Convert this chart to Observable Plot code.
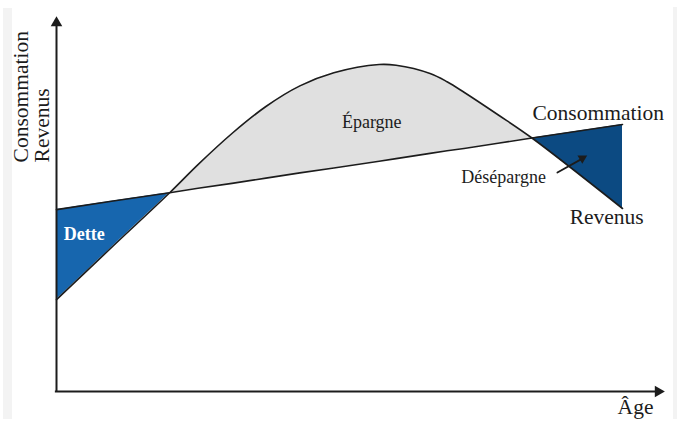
<!DOCTYPE html>
<html>
<head>
<meta charset="utf-8">
<script src="https://cdn.jsdelivr.net/npm/d3@7"></script>
<script src="https://cdn.jsdelivr.net/npm/@observablehq/plot@0.6"></script>
<style>
  html, body { margin: 0; padding: 0; background: #fff; }
  #wrap { position: relative; width: 677px; height: 437px; overflow: hidden; }
  .band { position: absolute; background: #f3f3f3; z-index: 2; }
</style>
</head>
<body>
<div id="wrap">
  <div class="band" style="left:3px;top:8px;width:9px;height:411px;"></div>
  <div class="band" style="left:673px;top:7px;width:4px;height:412px;"></div>
</div>
<script>
// Age (x) and values (y), in arbitrary units 0–100
const ages         = [0, 10, 20, 25, 31, 37, 43, 49, 57, 60, 66, 69, 72, 78, 84, 100];
const revenus      = [24.5, 38.8, 53.0, 60.5, 68.8, 76.0, 81.5, 85.0, 87.2, 87.0, 84.8, 82.6, 79.8, 73.8, 67.6, 48.8];
const consommation = [48.5, 50.8, 53.0, 54.2, 55.5, 56.9, 58.3, 59.6, 61.4, 62.1, 63.5, 64.2, 64.8, 66.2, 67.6, 71.2];
const zoneNames    = ["Dette", "Épargne", "Désépargne"];
const zoneBounds   = [[0, 20], [20, 84], [84, 100]];
const axisLabels   = ["Consommation", "Revenus", "Âge"];

const rows = ages.map((a, i) => ({age: a, revenu: revenus[i], conso: consommation[i]}));

const FONT = "Liberation Serif";
const INK = "#1c1c1c";
const zoneColors = {"Dette": "#1766ae", "Épargne": "#e0e0e0", "Désépargne": "#0c4a82"};

function label(text, x, y, opts = {}) {
  return Plot.text([text], {
    x: () => x, y: () => y, text: d => d,
    fontFamily: FONT, fontSize: 21.5, fill: INK, lineAnchor: "bottom",
    ...opts
  });
}

const zoneMarks = zoneNames.map((name, k) => {
  const [lo, hi] = zoneBounds[k];
  return Plot.areaY(rows.filter(r => r.age >= lo && r.age <= hi), {
    x: "age", y1: "conso", y2: "revenu",
    fill: zoneColors[name], curve: "catmull-rom"
  });
});

const chart = Plot.plot({
  width: 677,
  height: 437,
  margin: 0,
  style: {background: "transparent", overflow: "visible", fontFamily: FONT},
  x: {domain: [0, 100], range: [56, 622], axis: null},
  y: {domain: [0, 100], range: [391, 16], axis: null},
  marks: [
    ...zoneMarks,
    Plot.line(rows, {x: "age", y: "conso", stroke: INK, strokeWidth: 1.6}),
    Plot.line(rows, {x: "age", y: "revenu", stroke: INK, strokeWidth: 1.6, curve: "catmull-rom"}),
    // axes
    Plot.ruleY([0], {x1: -0.2, x2: 106.5, stroke: INK, strokeWidth: 2}),
    Plot.ruleX([0], {y1: 0, y2: 98.5, stroke: INK, strokeWidth: 2}),
    Plot.dot([0], {x: () => 106.3, y: () => 0, symbol: "triangle", r: 4.3, rotate: 90, fill: INK, stroke: null}),
    Plot.dot([0], {x: () => 0, y: () => 98.3, symbol: "triangle", r: 4.3, rotate: 0, fill: INK, stroke: null}),
    // annotation arrow
    Plot.line([[88.5, 58.4], [92.9, 62.1]], {x: d => d[0], y: d => d[1], stroke: INK, strokeWidth: 1.8}),
    Plot.dot([0], {x: () => 92.9, y: () => 62.2, symbol: "triangle", r: 3.6, rotate: 60, fill: INK, stroke: null}),
    // labels
    label(axisLabels[0], 84.1, 72.5, {textAnchor: "start"}),
    label(axisLabels[1], 97.2, 44.8, {textAnchor: "middle"}),
    label(axisLabels[2], 102.3, -5.9, {textAnchor: "middle"}),
    label(axisLabels[0], -4.95, 61.1, {textAnchor: "start", rotate: -90}),
    label(axisLabels[1], -1.24, 61.1, {textAnchor: "start", rotate: -90}),
    label(zoneNames[1], 55.7, 70.4, {textAnchor: "middle", fontSize: 18}),
    label(zoneNames[2], 79.0, 55.5, {textAnchor: "middle", fontSize: 18}),
    label(zoneNames[0], 4.9, 40.5, {textAnchor: "middle", fontSize: 18, fontWeight: "bold", fill: "#ffffff"})
  ]
});
document.getElementById("wrap").appendChild(chart);
</script>
</body>
</html>
